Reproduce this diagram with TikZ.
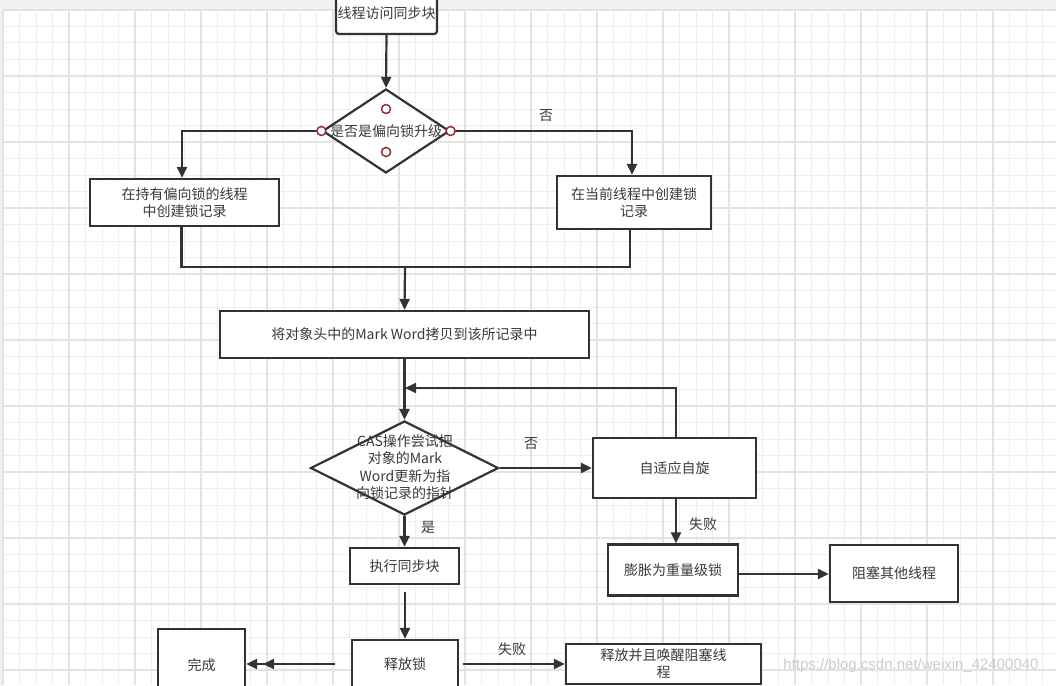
\documentclass[tikz,border=0pt]{standalone}
\usepackage{fontspec}
\newfontfamily\cjk{Noto Sans CJK SC}
\newfontfamily\wmfont{Liberation Sans}
\usetikzlibrary{arrows.meta,shapes.geometric}
\definecolor{ln}{HTML}{333333}
\definecolor{tx}{HTML}{3a3a3a}
\definecolor{gminor}{HTML}{EEEEEE}
\definecolor{gmajor}{HTML}{E3E3E3}
\definecolor{band}{HTML}{F1F1F1}
\definecolor{portred}{HTML}{8E3434}
\definecolor{wm}{HTML}{CCCCCC}
\tikzset{
  box/.style={draw=ln, line width=2.2pt, fill=white, inner sep=0pt, align=center,
    font=\cjk\fontsize{14}{17}\selectfont, text=tx},
  dia/.style={draw=ln, line width=2.2pt, fill=white, diamond, inner sep=0pt},
  txt/.style={font=\cjk\fontsize{14}{17.5}\selectfont, text=tx, align=center, inner sep=0pt},
  conn/.style={draw=ln, line width=2.2pt},
  arr/.style={conn, -{Triangle[length=11pt,width=10pt]}},
  port/.style={circle, draw=portred, fill=white, line width=1.5pt, minimum size=9pt, inner sep=0pt},
  gridminor/.style={draw=gminor, line width=1pt},
  gridmajor/.style={draw=gmajor, line width=1.2pt}
}
\begin{document}
\begin{tikzpicture}[x=1pt,y=-1pt]
\useasboundingbox (0,0) rectangle (1056,685);
\clip (0,0) rectangle (1056,685);
% background and grid
\fill[white] (0,0) rectangle (1056,685);
\fill[band] (0,0) rectangle (1056,10);
\fill[band] (0,0) rectangle (3,685);
\foreach \i in {0,...,64} {
  \draw[gridminor] ({3+16.5*\i},10) -- ({3+16.5*\i},685);
}
\foreach \j in {0,...,41} {
  \draw[gridminor] (3,{10+16.5*\j}) -- (1056,{10+16.5*\j});
}
\foreach \i in {0,...,16} {
  \draw[gridmajor] ({3+66*\i},10) -- ({3+66*\i},685);
}
\foreach \j in {0,...,10} {
  \draw[gridmajor] (3,{10+66*\j}) -- (1056,{10+66*\j});
}

% nodes
\node[box, rounded corners=3pt, minimum width=101pt, minimum height=42pt] (start) at (386.5,13) {线程访问同步块};
\node[dia, minimum width=127pt, minimum height=84pt] (d1) at (386,131) {};
\node[txt] (d1t) at (386,131) {是否是偏向锁升级};
\node[box, minimum width=189pt, minimum height=47pt] (b1) at (184.5,202.5) {在持有偏向锁的线程\\中创建锁记录};
\node[box, minimum width=154pt, minimum height=53pt] (b2) at (634,202.5) {在当前线程中创建锁\\记录};
\node[box, minimum width=369pt, minimum height=47pt] (b3) at (404.5,334.5) {将对象头中的Mark Word拷贝到该所记录中};
\node[dia, minimum width=188pt, minimum height=94pt] (d2) at (404.5,468) {};
\node[txt] (d2t) at (405,467) {CAS操作尝试把\\对象的Mark\\Word更新为指\\向锁记录的指针};
\node[box, minimum width=163pt, minimum height=60pt] (spin) at (674.5,468) {自适应自旋};
\node[box, minimum width=130pt, minimum height=51pt] (heavy) at (673,570) {膨胀为重量级锁};
\node[box, minimum width=128pt, minimum height=57pt] (block) at (894,573.5) {阻塞其他线程};
\node[box, minimum width=109pt, minimum height=36pt] (exec) at (404.5,566) {执行同步块};
\node[box, minimum width=106pt, minimum height=48pt] (rel) at (405,664) {释放锁};
\node[box, minimum width=87pt, minimum height=72pt] (done) at (201.5,665) {完成};
\node[box, minimum width=195pt, minimum height=40pt] (wake) at (663.5,664) {释放并且唤醒阻塞线\\程};

% coordinates
\coordinate (merge) at (405,267);
\coordinate (loop) at (405,388);
\coordinate (gapstart) at (405,592);
\coordinate (donestart) at (335,664);
\coordinate (donesecond) at (263,664);
\coordinate (wakestart) at (463,664);

% connectors
\draw[arr] (start.south) -- (d1.north);
\draw[arr] (d1.west) -| ([xshift=-2.5pt]b1.north);
\draw[arr] (d1.east) -| ([xshift=-2pt]b2.north);
\draw[conn] ([xshift=-3pt]b1.south) |- (merge);
\draw[conn] ([xshift=-4pt]b2.south) |- (merge);
\draw[arr] (merge) -- (b3.north);
\draw[arr] (b3.south) -- (d2.north);
\draw[arr] ([xshift=1.5pt]spin.north) |- (loop);
\draw[arr] (d2.east) -- (spin.west);
\draw[arr] ([xshift=1.5pt]spin.south) -- ([xshift=1.5pt]spin.south |- heavy.north);
\draw[arr] ([yshift=-4pt]heavy.east) -- ([yshift=-4pt]block.west |- heavy.east);
\draw[arr] (d2.south) -- (exec.north);
\draw[arr] (gapstart) -- (rel.north);
\draw[arr] (donestart) -- (done.east |- donestart);
\draw[arr] (donestart) -- (donesecond);
\draw[arr] (wakestart) -- (wake.west |- wakestart);

% ports on first decision
\node[port] (pw) at (d1.west) {};
\node[port] (pe) at (d1.east) {};
\node[port] (pn) at (386,109) {};
\node[port] (ps) at (386,152) {};

% edge labels
\node[txt] (l1) at (546,116) {否};
\node[txt] (l2) at (531,444) {否};
\node[txt] (l3) at (428,527) {是};
\node[txt] (l4) at (703,524) {失败};
\node[txt] (l5) at (512,649) {失败};

% watermark
\node[font=\wmfont\fontsize{15}{15}\selectfont, text=wm, inner sep=0pt] (wmk) at (911,666) {https://blog.csdn.net/weixin\_42400040};
\end{tikzpicture}
\end{document}
